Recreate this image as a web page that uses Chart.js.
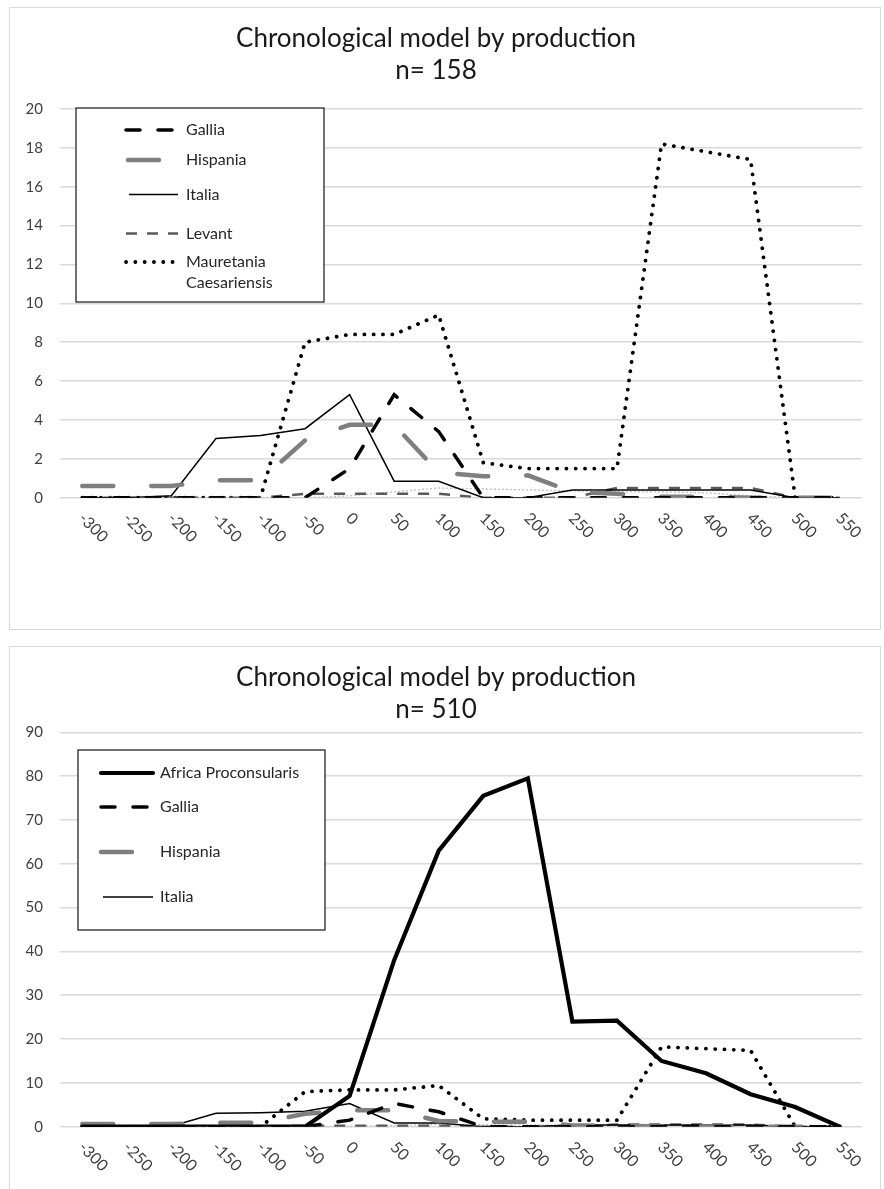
<!DOCTYPE html>
<html>
<head>
<meta charset="utf-8">
<title>Chronological model by production</title>
<script src="https://cdn.jsdelivr.net/npm/chart.js@4.4.0/dist/chart.umd.min.js"></script>
<style>
    body { margin: 0; background: #fff; width: 884px; height: 1189px; overflow: hidden; position: relative; }
    .panel { position: absolute; left: 9px; width: 870px; border: 1px solid #d9d9d9; background: #fff; }
    #panel1 { top: 7px; height: 621px; }
    #panel2 { top: 646px; height: 545px; }
    canvas { display: block; }
</style>
</head>
<body>
<div class="panel" id="panel1"><canvas id="chart1" width="870" height="621"></canvas></div>
<div class="panel" id="panel2"><canvas id="chart2" width="870" height="545"></canvas></div>

<script>
// Data (counts per 50-year step)
const years = ['-300', '-250', '-200', '-150', '-100', '-50', '0', '50', '100', '150',
    '200', '250', '300', '350', '400', '450', '500', '550'];

const gallia     = [0, 0, 0, 0, 0, 0, 1.5, 5.3, 3.4, 0, 0, 0, 0, 0, 0, 0, 0, 0];
const hispania   = [0.6, 0.6, 0.6, 0.9, 0.9, 2.95, 3.75, 3.75, 1.3, 1.1, 1.15, 0.3, 0.2, 0.05, 0.05, 0, 0, 0];
const italia     = [0, 0, 0.1, 3.05, 3.2, 3.55, 5.3, 0.85, 0.85, 0, 0, 0.4, 0.4, 0.4, 0.4, 0.4, 0, 0];
const levant     = [0, 0, 0, 0, 0, 0.2, 0.2, 0.2, 0.2, 0, 0, 0, 0.5, 0.5, 0.5, 0.5, 0, 0];
const mauretania = [0, 0, 0, 0, 0, 8.0, 8.4, 8.4, 9.4, 1.8, 1.5, 1.5, 1.5, 18.2, 17.8, 17.4, 0, 0];
const unlisted   = [0, 0, 0, 0, 0, 0, 0.1, 0.3, 0.5, 0.45, 0.4, 0.35, 0.3, 0.3, 0.25, 0.1, 0, 0];
const africa     = [0, 0, 0, 0, 0, 0, 7, 38, 63, 75.5, 79.5, 24, 24.2, 15, 12.2, 7.4, 4.5, 0];

const titleText = 'Chronological model by production';
const counts = ['n= 158', 'n= 510'];
const yTicks1 = { max: 20, step: 2 };
const yTicks2 = { max: 90, step: 10 };

const FONT = 'Lato, "Open Sans", sans-serif';

// line styles, kept apart from the values
function line(label, data, color, width, dash, cap) {
    return {
        label: label,
        data: data,
        borderColor: color,
        backgroundColor: color,
        borderWidth: width,
        borderDash: dash || [],
        borderCapStyle: cap || 'butt',
        pointRadius: 0,
        tension: 0,
        fill: false
    };
}

function galliaSet()     { return line('Gallia', gallia, '#000000', 3.5, [14, 18], 'round'); }
function hispaniaSet()   { return line('Hispania', hispania, '#7f7f7f', 4.5, [31, 38], 'round'); }
function italiaSet()     { return line('Italia', italia, '#000000', 1.5); }
function levantSet()     { return line('Levant', levant, '#595959', 2.5, [11, 10]); }
function mauretaniaSet() { return line('Mauretania Caesariensis', mauretania, '#000000', 3.8, [0.1, 9.2], 'round'); }
function unlistedSet()   { return line('', unlisted, '#bfbfbf', 1.3, [2, 2]); }
function africaSet()     { return line('Africa Proconsularis', africa, '#000000', 4.2, [], 'round'); }

// legend drawn as a boxed panel inside the plot
const boxLegend = {
    id: 'boxLegend',
    afterDatasetsDraw(chart, args, opts) {
        if (!opts || !opts.box) return;
        const ctx = chart.ctx;
        const b = opts.box;
        ctx.save();
        ctx.fillStyle = '#ffffff';
        ctx.fillRect(b[0], b[1], b[2], b[3]);
        ctx.strokeStyle = '#262626';
        ctx.lineWidth = 1.3;
        ctx.setLineDash([]);
        ctx.strokeRect(b[0], b[1], b[2], b[3]);

        opts.rows.forEach(row => {
            const ds = chart.data.datasets[row.index];
            ctx.beginPath();
            ctx.strokeStyle = ds.borderColor;
            ctx.lineWidth = ds.borderWidth;
            ctx.lineCap = ds.borderCapStyle;
            ctx.setLineDash(ds.borderDash);
            ctx.moveTo(row.x0, row.y);
            ctx.lineTo(row.x1, row.y);
            ctx.stroke();

            ctx.setLineDash([]);
            ctx.fillStyle = '#262626';
            ctx.font = '16px ' + FONT;
            ctx.textAlign = 'left';
            ctx.textBaseline = 'middle';
            const step = row.wrap || 0;
            const parts = step ? ds.label.split(' ') : [ds.label];
            parts.forEach((t, k) => ctx.fillText(t, row.tx, row.y + k * step));
        });
        ctx.restore();
    }
};

// x labels turned 45 degrees clockwise, starting at each category
const slantedLabels = {
    id: 'slantedLabels',
    afterDraw(chart) {
        const ctx = chart.ctx;
        const xs = chart.scales.x;
        const bottom = chart.chartArea.bottom;
        ctx.save();
        ctx.fillStyle = '#404040';
        ctx.font = '16px ' + FONT;
        ctx.textAlign = 'left';
        ctx.textBaseline = 'middle';
        chart.data.labels.forEach((lab, i) => {
            ctx.save();
            ctx.translate(xs.getPixelForValue(i) - 1, bottom + 18);
            ctx.rotate(Math.PI / 4);
            ctx.fillText(lab, 0, 0);
            ctx.restore();
        });
        ctx.restore();
    }
};

function makeChart(canvasId, datasets, count, yT, pad, legendCfg) {
    const ctx = document.getElementById(canvasId).getContext('2d');
    return new Chart(ctx, {
        type: 'line',
        data: { labels: years, datasets: datasets },
        options: {
            responsive: false,
            animation: false,
            devicePixelRatio: 1,
            layout: { padding: { left: 0, right: 18, top: 0, bottom: pad.bottom } },
            plugins: {
                legend: { display: false },
                tooltip: { enabled: false },
                title: {
                    display: true,
                    text: [titleText, count],
                    color: '#1a1a1a',
                    font: { family: FONT, size: 26, weight: 'normal', lineHeight: 1.2 },
                    padding: { top: 15.4, bottom: pad.titleBottom }
                },
                boxLegend: legendCfg
            },
            scales: {
                x: {
                    type: 'category',
                    offset: true,
                    display: false
                },
                y: {
                    min: 0,
                    max: yT.max,
                    border: { display: false },
                    grid: { color: '#d9d9d9', lineWidth: 1.5, drawTicks: false },
                    ticks: {
                        stepSize: yT.step,
                        padding: 17,
                        color: '#404040',
                        font: { family: FONT, size: 15 }
                    },
                    afterFit: scale => { scale.width = 50; }
                }
            }
        },
        plugins: [boxLegend, slantedLabels]
    });
}

document.addEventListener('DOMContentLoaded', () => {
    makeChart('chart1',
        [galliaSet(), hispaniaSet(), italiaSet(), levantSet(), mauretaniaSet(), unlistedSet()],
        counts[0], yTicks1,
        { bottom: 131.3, titleBottom: 23.2 },
        {
            box: [66, 100, 248, 194],
            rows: [
                { index: 0, x0: 116, x1: 168, tx: 176, y: 122 },
                { index: 1, x0: 118, x1: 152, tx: 176, y: 152 },
                { index: 2, x0: 119, x1: 168, tx: 176, y: 186.5 },
                { index: 3, x0: 116, x1: 168, tx: 176, y: 225.5 },
                { index: 4, x0: 116, x1: 168, tx: 176, y: 254, wrap: 21 }
            ]
        });

    makeChart('chart2',
        [africaSet(), galliaSet(), hispaniaSet(), italiaSet(), levantSet(), mauretaniaSet(), unlistedSet()],
        counts[1], yTicks2,
        { bottom: 65.3, titleBottom: 7.5 },
        {
            box: [68, 103, 247, 180],
            rows: [
                { index: 0, x0: 91, x1: 143, tx: 150, y: 126 },
                { index: 1, x0: 91, x1: 143, tx: 150, y: 160 },
                { index: 2, x0: 91, x1: 127, tx: 150, y: 205 },
                { index: 3, x0: 93, x1: 143, tx: 150, y: 250 }
            ]
        });
});
</script>
</body>
</html>
